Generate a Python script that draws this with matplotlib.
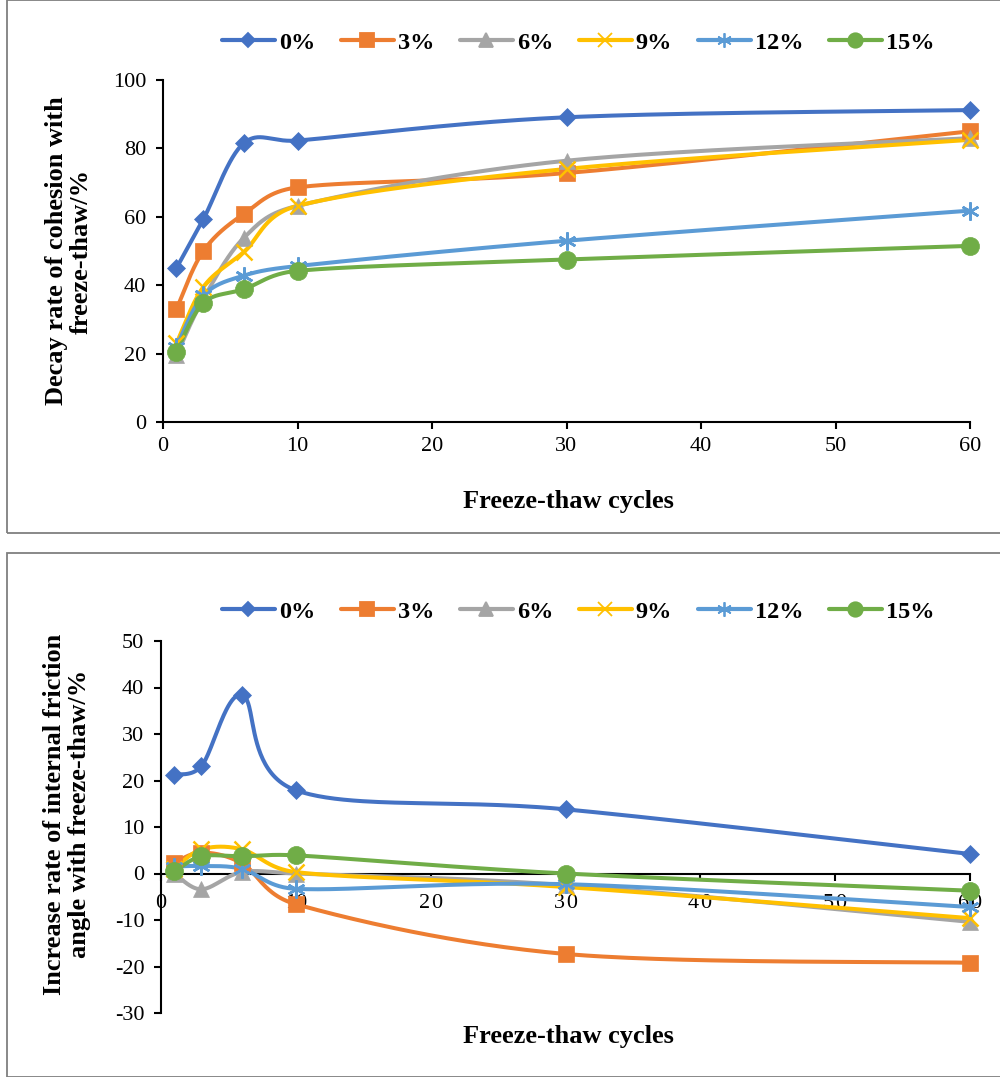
import numpy as np
import matplotlib
matplotlib.use("Agg")
import matplotlib.pyplot as plt
from matplotlib.patches import Rectangle
from matplotlib.lines import Line2D

plt.rcParams['font.family'] = ['Liberation Serif', 'DejaVu Serif']
plt.rcParams['axes.unicode_minus'] = False

# ---------------- data ----------------
cycles = [1, 3, 6, 10, 30, 60]
series_labels = ['0%', '3%', '6%', '9%', '12%', '15%']

cohesion_0 = [45.0, 59.3, 81.5, 82.3, 89.1, 91.2]
cohesion_3 = [33.0, 50.0, 60.8, 68.6, 72.8, 85.0]
cohesion_6 = [19.5, 36.0, 53.8, 63.2, 76.4, 83.0]
cohesion_9 = [23.0, 39.5, 49.7, 63.2, 74.0, 82.5]
cohesion_12 = [22.0, 37.0, 42.8, 45.6, 53.0, 61.8]
cohesion_15 = [20.5, 34.8, 38.8, 44.2, 47.5, 51.5]

friction_0 = [21.2, 23.1, 38.4, 17.9, 13.8, 4.2]
friction_3 = [2.3, 4.5, 2.2, -6.6, -17.3, -19.2]
friction_6 = [0.0, -3.4, 0.3, 0.0, -2.5, -10.4]
friction_9 = [1.0, 5.2, 5.2, 0.3, -2.9, -9.6]
friction_12 = [1.5, 1.6, 1.0, -3.3, -2.3, -7.2]
friction_15 = [0.5, 3.7, 3.7, 3.9, 0.0, -3.7]

cohesion = [cohesion_0, cohesion_3, cohesion_6, cohesion_9, cohesion_12, cohesion_15]
friction = [friction_0, friction_3, friction_6, friction_9, friction_12, friction_15]

top_yticks = [0, 20, 40, 60, 80, 100]
bot_yticks = [-30, -20, -10, 0, 10, 20, 30, 40, 50]
xticks = [0, 10, 20, 30, 40, 50, 60]
bot_xticklabels = ['0', '10', '2\u200a0', '3\u200a0', '4\u200a0', '5\u200a0', '6\u200a0']

# ---------------- style ----------------
colors = ['#4472C4', '#ED7D31', '#A5A5A5', '#FFC000', '#5B9BD5', '#70AD47']
asterisk = (6, 2, 0)
markers = ['D', 's', '^', 'x', asterisk, 'o']
msizes = [9.5, 12, 12, 12, 13, 13]

W, H = 1000, 1077
fig = plt.figure(figsize=(W / 100, H / 100), dpi=100)

# panel borders
fig.patches.append(Rectangle((7 / W, 1 - 533 / H), 1.0, 533 / H, transform=fig.transFigure,
                             fill=False, edgecolor='#7f7f7f', lw=1.3, zorder=0))
fig.patches.append(Rectangle((7 / W, 0.0), 1.0, (1077 - 553) / H, transform=fig.transFigure,
                             fill=False, edgecolor='#7f7f7f', lw=1.3, zorder=0))

ax1 = fig.add_axes([163 / W, (H - 422) / H, (970 - 163) / W, (422 - 80) / H])
ax2 = fig.add_axes([161 / W, (H - 1013) / H, (970 - 161) / W, (1013 - 641) / H])


def smooth_curve(ax, xs, ys, n=50):
    """Excel-like smooth line: Catmull-Rom Bezier in display space, tangents clipped."""
    pts = ax.transData.transform(np.column_stack([xs, ys]))
    m = len(pts)
    out = []
    for i in range(m - 1):
        p0 = pts[i - 1] if i > 0 else pts[i]
        p1 = pts[i]
        p2 = pts[i + 1]
        p3 = pts[i + 2] if i + 2 < m else pts[i + 1]
        seglen = np.hypot(*(p2 - p1))
        v1 = (p2 - p0) / 6.0
        v2 = (p3 - p1) / 6.0
        lim = 0.5 * seglen
        n1, n2 = np.hypot(*v1), np.hypot(*v2)
        if n1 > lim:
            v1 = v1 * lim / n1
        if n2 > lim:
            v2 = v2 * lim / n2
        c1 = p1 + v1
        c2 = p2 - v2
        t = np.linspace(0, 1, n)[:, None]
        seg = ((1 - t) ** 3) * p1 + 3 * ((1 - t) ** 2) * t * c1 + 3 * (1 - t) * t ** 2 * c2 + t ** 3 * p2
        if i > 0:
            seg = seg[1:]
        out.append(seg)
    out = np.vstack(out)
    data = ax.transData.inverted().transform(out)
    return data[:, 0], data[:, 1]


def style_axes(ax, ylim, yticks):
    ax.set_xlim(0, 60)
    ax.set_ylim(*ylim)
    ax.set_xticks(xticks)
    ax.set_yticks(yticks)
    ax.set_facecolor('none')
    for s in ['top', 'right']:
        ax.spines[s].set_visible(False)
    for s in ['left', 'bottom']:
        ax.spines[s].set_linewidth(1.5)
        ax.spines[s].set_color('black')
    ax.tick_params(axis='both', direction='out', length=5, width=1.5, labelsize=16)


style_axes(ax1, (0, 100), top_yticks)
style_axes(ax2, (-30, 50), bot_yticks)
ax2.set_xticklabels(bot_xticklabels)
ax2.spines['bottom'].set_position(('data', 0))
ax1.tick_params(axis='x', pad=6)
ax1.tick_params(axis='y', pad=7)
ax2.tick_params(axis='x', pad=10)
ax2.tick_params(axis='y', pad=7)

legend_handles = []
for k in range(6):
    legend_handles.append(Line2D([0], [0], color=colors[k], lw=3.0, marker=markers[k],
                                 markersize=msizes[k] * 0.8, markeredgecolor=colors[k],
                                 markerfacecolor=colors[k], markeredgewidth=1.3,
                                 solid_capstyle='round'))

for ax, data in [(ax1, cohesion), (ax2, friction)]:
    for k, ys in enumerate(data):
        sx, sy = smooth_curve(ax, cycles, ys)
        ax.plot(sx, sy, color=colors[k], lw=2.9, solid_capstyle='round', zorder=3 + k * 0.1, clip_on=False)
        mew = 1.8 if k in (3, 4) else 0.5
        ax.plot(cycles, ys, linestyle='none', marker=markers[k], markersize=msizes[k],
                markeredgecolor=colors[k], markerfacecolor=colors[k], markeredgewidth=mew,
                zorder=4 + k * 0.1, clip_on=False)

lab_font = dict(fontsize=19, fontweight='bold')

ax1.set_ylabel('Decay rate of cohesion with\nfreeze-thaw/%', linespacing=1.1, **lab_font)
ax1.yaxis.set_label_coords((93 - 163) / (970 - 163), 0.5)
ax1.set_xlabel('Freeze-thaw cycles', **lab_font)
ax1.xaxis.set_label_coords((568 - 163) / (970 - 163), -(490 - 422) / (422 - 80))

ax2.set_ylabel('Increase rate of internal friction\nangle with freeze-thaw/%', linespacing=1.1, **lab_font)
ax2.yaxis.set_label_coords((91 - 161) / (970 - 161), (1013 - 814) / (1013 - 641))
ax2.set_xlabel('Freeze-thaw cycles', **lab_font)
ax2.xaxis.set_label_coords((568 - 161) / (970 - 161), -(1025 - 1013) / (1013 - 641))

leg_kw = dict(ncol=6, frameon=False, handlelength=2.2, handletextpad=0.15, columnspacing=1.05,
              prop={'weight': 'bold', 'size': 17.5}, loc='center')
fig.legend(legend_handles, series_labels, bbox_to_anchor=(578 / W, 1 - 43 / H), **leg_kw)
fig.legend(legend_handles, series_labels, bbox_to_anchor=(578 / W, 1 - 612 / H), **leg_kw)

fig.savefig('out.png', dpi=100)
